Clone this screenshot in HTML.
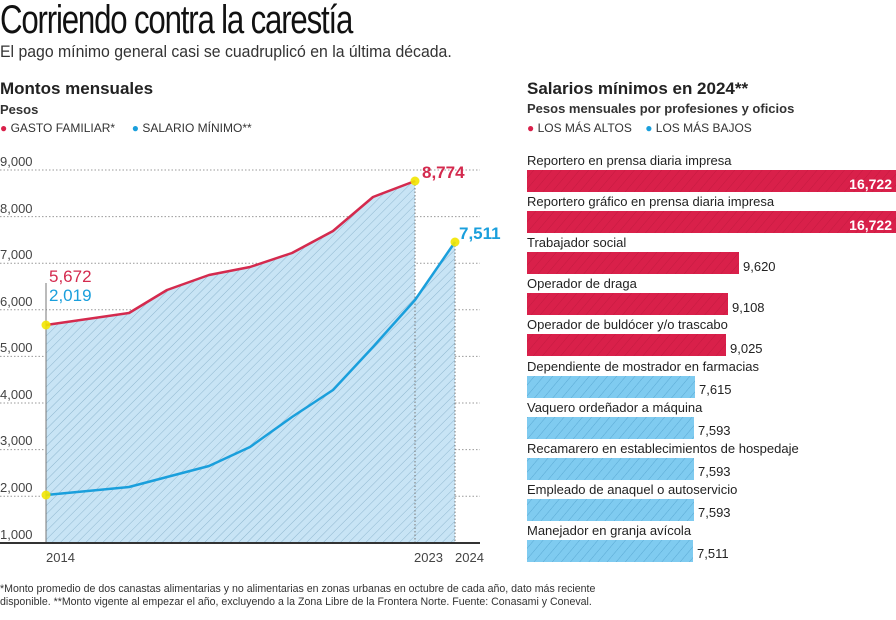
<!DOCTYPE html>
<html><head><meta charset="utf-8"><style>
body{margin:0;width:896px;height:620px;background:#fff;overflow:hidden;font-family:"Liberation Sans",sans-serif;color:#222;position:relative}
.a{position:absolute;white-space:nowrap}
</style></head><body>
<div class="a" style="left:0;top:-2px;font-size:40px;letter-spacing:-1.5px;transform:scaleX(0.78);transform-origin:0 0;color:#111">Corriendo contra la carestía</div>
<div class="a" style="left:0;top:42px;font-size:17px;color:#333;transform:scaleX(0.93);transform-origin:0 0">El pago mínimo general casi se cuadruplicó en la última década.</div>
<div class="a" style="left:0;top:79px;font-size:17px;font-weight:bold;color:#222">Montos mensuales</div>
<div class="a" style="left:0;top:102px;font-size:13px;font-weight:bold;color:#333">Pesos</div>
<div class="a" style="left:0;top:121px;font-size:12px;color:#333"><span style="color:#d9204a">●</span> GASTO FAMILIAR* &nbsp;&nbsp;&nbsp;&nbsp;<span style="color:#1a9fdc">●</span> SALARIO MÍNIMO**</div>
<div class="a" style="left:527px;top:79px;font-size:17px;font-weight:bold;color:#222">Salarios mínimos en 2024**</div>
<div class="a" style="left:527px;top:101px;font-size:13px;font-weight:bold;color:#333">Pesos mensuales por profesiones y oficios</div>
<div class="a" style="left:527px;top:121px;font-size:12px;color:#333"><span style="color:#d9204a">●</span> LOS MÁS ALTOS &nbsp;&nbsp;&nbsp;<span style="color:#1a9fdc">●</span> LOS MÁS BAJOS</div>
<svg class="a" style="left:0;top:0" width="896" height="620">
<defs>
<pattern id="h" width="6" height="6" patternUnits="userSpaceOnUse" patternTransform="rotate(45)"><rect width="6" height="6" fill="#c8e4f5"/><line x1="0" y1="0" x2="0" y2="6" stroke="#8fb7cf" stroke-width="1"/></pattern>
<pattern id="hb" width="7" height="7" patternUnits="userSpaceOnUse" patternTransform="rotate(40)"><rect width="7" height="7" fill="#7fcbf0"/><line x1="0" y1="0" x2="0" y2="7" stroke="#5aa9d3" stroke-width="1"/></pattern>
<pattern id="hr" width="7" height="7" patternUnits="userSpaceOnUse" patternTransform="rotate(40)"><rect width="7" height="7" fill="#d9204a"/><line x1="0" y1="0" x2="0" y2="7" stroke="#c51a40" stroke-width="1"/></pattern>
</defs>
<g stroke="#999" stroke-dasharray="1.5,2" stroke-width="1">
<line x1="0" y1="170" x2="480" y2="170"/><line x1="0" y1="216.6" x2="480" y2="216.6"/><line x1="0" y1="263.2" x2="480" y2="263.2"/><line x1="0" y1="309.8" x2="480" y2="309.8"/><line x1="0" y1="356.4" x2="480" y2="356.4"/><line x1="0" y1="403" x2="480" y2="403"/><line x1="0" y1="449.6" x2="480" y2="449.6"/><line x1="0" y1="496.2" x2="480" y2="496.2"/>
</g>
<polygon fill="url(#h)" points="46,325 129,313 167,290 209,275 250,267 292,253 333,231 373,197 415,181 415,300 455,242 455,543 46,543"/>
<g stroke="#777" stroke-dasharray="1.5,2"><line x1="415" y1="181" x2="415" y2="543"/><line x1="455" y1="242" x2="455" y2="543"/></g>
<line x1="46" y1="283" x2="46" y2="543" stroke="#777" stroke-width="1"/>
<polyline fill="none" stroke="#d42a4e" stroke-width="2.5" stroke-linejoin="round" points="46,325 129,313 167,290 209,275 250,267 292,253 333,231 373,197 415,181"/>
<polyline fill="none" stroke="#1a9fdc" stroke-width="2.5" stroke-linejoin="round" points="46,495 129,487 167,477 209,466 250,447 292,417 333,390 373,347 415,300 455,242"/>
<g fill="#f2e600" opacity="0.9"><circle cx="46" cy="325" r="4.5"/><circle cx="46" cy="495" r="4.5"/><circle cx="415" cy="181" r="4.5"/><circle cx="455" cy="242" r="4.5"/></g>
<line x1="0" y1="543" x2="480" y2="543" stroke="#333" stroke-width="2"/>
<g font-size="13" fill="#444" font-family="Liberation Sans">
<text x="0" y="166">9,000</text><text x="0" y="213">8,000</text><text x="0" y="259">7,000</text><text x="0" y="306">6,000</text><text x="0" y="352">5,000</text><text x="0" y="399">4,000</text><text x="0" y="445">3,000</text><text x="0" y="492">2,000</text><text x="0" y="539">1,000</text>
<text x="46" y="562">2014</text><text x="414" y="562">2023</text><text x="455" y="562">2024</text>
</g>
<text x="49" y="282" font-size="17" fill="#d42a4e">5,672</text>
<text x="49" y="301" font-size="17" fill="#1a9fdc">2,019</text>
<text x="422" y="178" font-size="17" font-weight="bold" fill="#d42a4e">8,774</text>
<text x="459" y="239" font-size="17" font-weight="bold" fill="#1a9fdc">7,511</text>
<g font-size="13" fill="#222">
<text x="527" y="165">Reportero en prensa diaria impresa</text>
<rect x="527" y="170" width="369" height="22" fill="url(#hr)"/><text x="892" y="189" text-anchor="end" fill="#fff" font-weight="bold" font-size="14">16,722</text>
<text x="527" y="206">Reportero gráfico en prensa diaria impresa</text>
<rect x="527" y="211" width="369" height="22" fill="url(#hr)"/><text x="892" y="230" text-anchor="end" fill="#fff" font-weight="bold" font-size="14">16,722</text>
<text x="527" y="247">Trabajador social</text>
<rect x="527" y="252" width="212" height="22" fill="url(#hr)"/><text x="743" y="271">9,620</text>
<text x="527" y="288">Operador de draga</text>
<rect x="527" y="293" width="201" height="22" fill="url(#hr)"/><text x="732" y="312">9,108</text>
<text x="527" y="329">Operador de buldócer y/o trascabo</text>
<rect x="527" y="334" width="199" height="22" fill="url(#hr)"/><text x="730" y="353">9,025</text>
<text x="527" y="371">Dependiente de mostrador en farmacias</text>
<rect x="527" y="376" width="168" height="22" fill="url(#hb)"/><text x="699" y="394">7,615</text>
<text x="527" y="412">Vaquero ordeñador a máquina</text>
<rect x="527" y="417" width="167" height="22" fill="url(#hb)"/><text x="698" y="435">7,593</text>
<text x="527" y="453">Recamarero en establecimientos de hospedaje</text>
<rect x="527" y="458" width="167" height="22" fill="url(#hb)"/><text x="698" y="476">7,593</text>
<text x="527" y="494">Empleado de anaquel o autoservicio</text>
<rect x="527" y="499" width="167" height="22" fill="url(#hb)"/><text x="698" y="517">7,593</text>
<text x="527" y="535">Manejador en granja avícola</text>
<rect x="527" y="540" width="166" height="22" fill="url(#hb)"/><text x="697" y="558">7,511</text>
</g>
<g font-size="10.6" fill="#333">
<text x="0" y="592">*Monto promedio de dos canastas alimentarias y no alimentarias en zonas urbanas en octubre de cada año, dato más reciente</text>
<text x="0" y="605">disponible. **Monto vigente al empezar el año, excluyendo a la Zona Libre de la Frontera Norte. Fuente: Conasami y Coneval.</text>
</g>
</svg>
</body></html>
